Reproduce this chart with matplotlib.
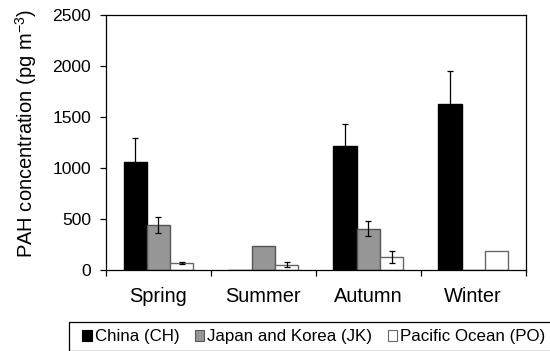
import matplotlib
matplotlib.use("Agg")
import matplotlib.pyplot as plt
import numpy as np
from matplotlib.patches import Patch, Rectangle

plt.rcParams['font.family'] = ['Liberation Sans', 'DejaVu Sans']

seasons = ["Spring", "Summer", "Autumn", "Winter"]
series = ["China (CH)", "Japan and Korea (JK)", "Pacific Ocean (PO)"]
ch = [1062, 0, 1213, 1622]
ch_err = [232, 0, 220, 325]
jk = [438, 232, 406, 0]
jk_err = [77, 0, 70, 0]
po = [68, 53, 127, 184]
po_err = [11, 21, 57, 0]
yticks = [0, 500, 1000, 1500, 2000, 2500]

fills = ["#000000", "#969696", "#ffffff"]
edges = ["#000000", "#555555", "#666666"]

W, H = 550, 351
fig = plt.figure(figsize=(W/100, H/100), dpi=100)
ax = fig.add_axes([106/W, 1-270/H, (525.7-106)/W, (270-14.7)/H])

x = np.arange(len(seasons))
w = 0.222
data = [ch, jk, po]
errs = [ch_err, jk_err, po_err]
for i, (vals, er) in enumerate(zip(data, errs)):
    pos = x + (i-1)*w
    ax.bar(pos, vals, width=w, color=fills[i], edgecolor=edges[i], linewidth=1.0, zorder=2)
    e = np.array(er, dtype=float)
    mask = e > 0
    ax.errorbar(pos[mask], np.array(vals)[mask], yerr=e[mask], fmt='none', ecolor='#000000',
                elinewidth=0.9, capsize=2, capthick=0.9, zorder=3)

ax.set_xlim(-0.5, 3.5)
ax.set_ylim(0, 2500)
ax.set_yticks(yticks)
ax.set_yticklabels([str(t) for t in yticks], fontsize=12.6)
ax.set_xticks(x)
ax.set_xticklabels(seasons, fontsize=14.4)
ax.set_xticks(np.arange(-0.5, 3.6, 1), minor=True)
ax.tick_params(axis='x', which='major', length=0, pad=12)
ax.tick_params(axis='x', which='minor', length=4.3, width=0.9, color='#000000', direction='out')
ax.tick_params(axis='y', length=4.3, width=0.9, direction='out', pad=6.5)
for s in ax.spines.values():
    s.set_color('#000000')
    s.set_linewidth(0.9)
ax.set_ylabel("PAH concentration (pg m$^{\\mathregular{-3}}$)", fontsize=14.5)
ax.yaxis.set_label_coords(-0.16, 0.533)

handles = [Patch(facecolor=fills[i], edgecolor=edges[i] if i else '#000000', linewidth=0.8) for i in range(3)]
leg = fig.legend(handles, series, loc='center left', bbox_to_anchor=(82/W, 1-337/H),
                 ncol=3, fontsize=12.2, frameon=False, handlelength=0.58,
                 handleheight=0.58, handletextpad=0.17, columnspacing=0.9, borderpad=0,
                 borderaxespad=0)
fig.patches.append(Rectangle((69/W, 0), 1.0, 1-321.7/H, transform=fig.transFigure,
                             facecolor='none', edgecolor='#000000', linewidth=0.9))

fig.savefig("out.png", dpi=100)
